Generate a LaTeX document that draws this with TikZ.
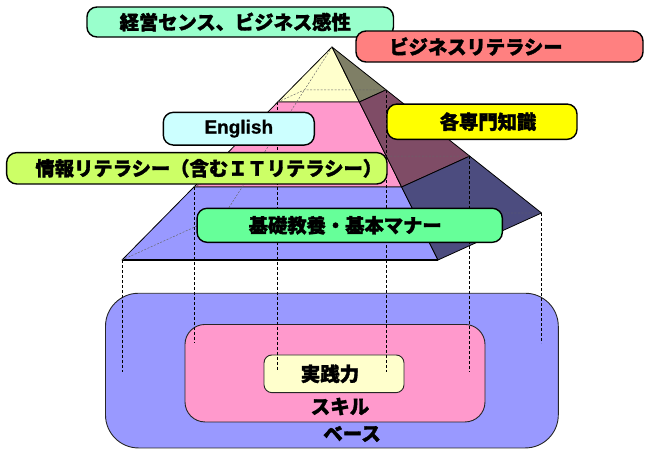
\documentclass[tikz,border=0pt]{standalone}
\usepackage{fontspec}
\newfontfamily\jp{Noto Sans CJK JP}[BoldFeatures={FakeBold=1.6}]
\newfontfamily\en{Liberation Sans}[BoldFeatures={FakeBold=0.8}]
\usetikzlibrary{calc}
\definecolor{cyel}{HTML}{FFFFCC}
\definecolor{cpink}{HTML}{FF99CC}
\definecolor{cblue}{HTML}{9999FF}
\definecolor{colive}{HTML}{7F7F66}
\definecolor{cmaroon}{HTML}{7F4C66}
\definecolor{cnavy}{HTML}{4C4C7F}
\definecolor{lgreen}{HTML}{99FFCC}
\definecolor{lred}{HTML}{FF8080}
\definecolor{lcyan}{HTML}{CCFFFF}
\definecolor{lyellow}{HTML}{FFFF00}
\definecolor{llime}{HTML}{CCFF66}
\definecolor{lmint}{HTML}{66FF99}
\tikzset{
  lab/.style={draw=black, line width=1.4pt, rounded corners=10pt, inner sep=0pt,
    font=\jp\bfseries\fontsize{19.3}{19.3}\selectfont},
  face/.style={draw=black, line width=0.8pt, line join=round},
  hid/.style={draw=black!60, line width=0.45pt, dash pattern=on 2pt off 1.5pt},
  vdash/.style={draw=black, line width=0.8pt, dash pattern=on 3pt off 2pt},
  basebox/.style={draw=black!85, line width=0.9pt, inner sep=0pt},
  btxt/.style={font=\jp\bfseries\fontsize{19.5}{19.5}\selectfont, inner sep=0pt},
}
\begin{document}
\begin{tikzpicture}[x=1pt,y=-1pt]
\useasboundingbox (0,0) rectangle (646,450);
% base rectangles
\node[basebox, fill=cblue, rounded corners=33pt, minimum width=452.8pt, minimum height=154.7pt] (base) at (331.9,370.6) {};
\node[basebox, fill=cpink, rounded corners=20pt, minimum width=300pt, minimum height=97.5pt] (skill) at (335,373.2) {};
\node[basebox, fill=cyel, rounded corners=8pt, minimum width=140pt, minimum height=37.7pt,
  font=\jp\bfseries\fontsize{19.5}{19.5}\selectfont] (jissen) at (334,373.8) {実践力\hspace*{8pt}};
\node[btxt] (skilltxt) at (340,406.5) {スキル};
\node[btxt] (basetxt) at (352,434) {ベース};
% pyramid points
\coordinate (A) at (332,47);
\coordinate (FL) at (122,260);
\coordinate (FR) at (438,260);
\coordinate (BR) at (541.5,213);
\coordinate (BL) at ($(FL)+(BR)-(FR)$);
\foreach \n/\t in {1/0.2582,2/0.6573}{
  \coordinate (FL\n) at ($(A)!\t!(FL)$);
  \coordinate (FR\n) at ($(A)!\t!(FR)$);
  \coordinate (BR\n) at ($(A)!\t!(BR)$);
  \coordinate (BL\n) at ($(A)!\t!(BL)$);
}
% faces
\path[face, fill=cyel] (A) -- (FL1) -- (FR1) -- cycle;
\path[face, fill=cpink] (FL1) -- (FL2) -- (FR2) -- (FR1) -- cycle;
\path[face, fill=cblue] (FL2) -- (FL) -- (FR) -- (FR2) -- cycle;
\path[face, fill=colive] (A) -- (FR1) -- (BR1) -- cycle;
\path[face, fill=cmaroon] (FR1) -- (FR2) -- (BR2) -- (BR1) -- cycle;
\path[face, fill=cnavy] (FR2) -- (FR) -- (BR) -- (BR2) -- cycle;
\draw[black, line width=1.6pt] (FL) -- (FR);
% hidden edges
\draw[hid] (A) -- (BL);
\draw[hid] (FL1) -- (BL1) -- (BR1);
\draw[hid] (FL2) -- (BL2) -- (BR2);
\draw[hid] (FL) -- (BL) -- (BR);
% projection lines
\coordinate (lowend) at (0,371.7);
\coordinate (midend) at (0,343);
\draw[vdash] (FL) -- (FL |- lowend);
\draw[vdash] (FL2) -- (FL2 |- midend);
\draw[vdash] (FL1) -- (FL1 |- lowend);
\draw[vdash] (BR1) -- (BR1 |- lowend);
\draw[vdash] (BR2) -- (BR2 |- lowend);
\draw[vdash] (BR) -- (BR |- midend);
% labels
\node[lab, fill=lgreen, minimum width=306.5pt, minimum height=30pt] (keiei) at (240.2,22) {経営センス、ビジネス感性\hspace*{10pt}};
\node[lab, fill=lred, minimum width=287pt, minimum height=31pt] (bizlit) at (499.5,46.5) {ビジネスリテラシー\hspace*{47pt}};
\node[lab, fill=lcyan, minimum width=151pt, minimum height=32.7pt, font=\en\bfseries\fontsize{19}{19}\selectfont] (eng) at (238.8,128.7) {English};
\node[lab, fill=lyellow, minimum width=190pt, minimum height=35.3pt] (senmon) at (482,121.7) {\hspace*{12pt}各専門知識};
\node[lab, fill=llime, minimum width=380.3pt, minimum height=31.3pt] (joho) at (196.8,168.3) {\hspace*{24pt}情報リテラシー（含むＩＴリテラシー）};
\node[lab, fill=lmint, minimum width=305.3pt, minimum height=34pt] (kiso) at (349.7,225.3) {基礎教養・基本マナー\hspace*{9pt}};
\end{tikzpicture}
\end{document}
